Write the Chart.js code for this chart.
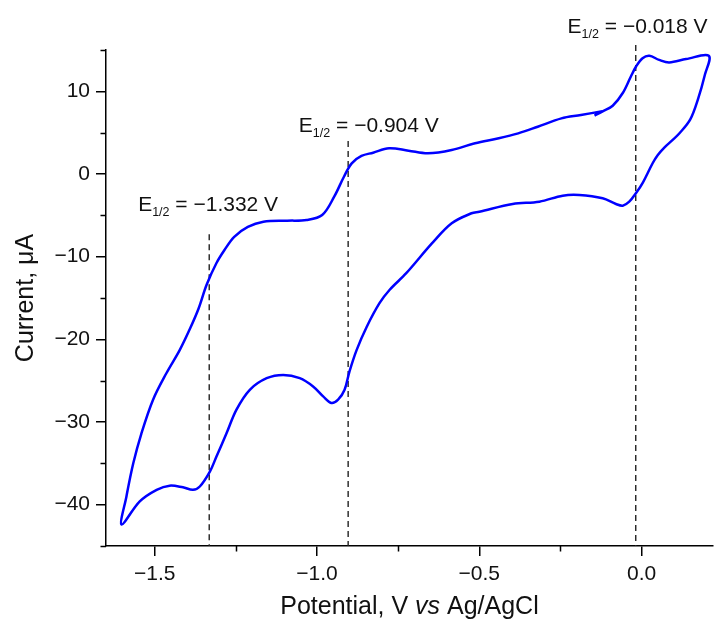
<!DOCTYPE html>
<html>
<head>
<meta charset="utf-8">
<script src="https://cdn.jsdelivr.net/npm/chart.js@4.4.1/dist/chart.umd.min.js"></script>
<style>
  html, body { margin: 0; padding: 0; background: #fff; }
  #wrap { width: 714px; height: 628px; }
</style>
</head>
<body>
<div id="wrap"><canvas id="myChart"></canvas></div>
<script>
// cyclic voltammogram (V vs Ag/AgCl, uA)
const potential = [
  -0.145, -0.120, -0.089, -0.058, -0.033, -0.017, 0.003, 0.024, 0.054, 0.085, 0.137, 0.207,
  0.195, 0.175, 0.150, 0.116, 0.095, 0.070, 0.050, 0.034, 0.003, -0.017, -0.038, -0.058, -0.079,
  -0.120, -0.192, -0.243, -0.315, -0.397, -0.500, -0.524, -0.585, -0.646, -0.725, -0.776, -0.807,
  -0.847, -0.878, -0.900, -0.915, -0.935, -0.956, -0.981, -1.012, -1.053, -1.104, -1.155, -1.207,
  -1.248, -1.279, -1.310, -1.330, -1.361, -1.382, -1.413, -1.454, -1.494, -1.546, -1.602,
  -1.587, -1.566, -1.541, -1.505, -1.464, -1.423, -1.390, -1.365, -1.340, -1.310, -1.285, -1.255,
  -1.213, -1.165, -1.092, -1.032, -0.984, -0.947, -0.917, -0.893, -0.863, -0.827, -0.778, -0.718,
  -0.658, -0.585, -0.513, -0.440, -0.380, -0.320, -0.247, -0.187, -0.121
];
const current = [
  7.06, 7.58, 8.26, 9.8, 11.8, 13.0, 14.0, 14.3, 13.8, 13.5, 13.9, 14.3,
  12.0, 9.2, 6.6, 4.9, 4.1, 3.2, 2.3, 1.3, -1.1, -2.3, -3.35, -3.83, -3.63,
  -2.94, -2.54, -2.62, -3.35, -3.63, -4.56, -4.75, -5.96, -8.4, -12.0, -14.0, -15.6,
  -18.5, -21.3, -23.9, -26.1, -27.3, -27.7, -26.9, -25.7, -24.7, -24.3, -24.7, -26.1,
  -28.5, -31.4, -34.2, -36.0, -37.8, -38.2, -37.9, -37.7, -38.2, -39.6, -42.4,
  -39.0, -35.0, -31.4, -27.3, -24.1, -21.3, -18.6, -16.3, -13.4, -10.8, -9.2, -7.6,
  -6.4, -5.78, -5.65, -5.56, -4.96, -2.74, -0.33, 1.29, 2.18, 2.58, 3.12, 2.82,
  2.5, 2.9, 3.72, 4.32, 4.92, 5.72, 6.73, 7.13, 7.6
];

// half-wave potentials and where each dashed marker starts
const halfWaveV = [-1.332, -0.904, -0.018];
const halfWaveTop = [-7.3, 4.0, 15.6];
const halfWaveText = ['\u22121.332 V', '\u22120.904 V', '\u22120.018 V'];

const xTicks = [-1.5, -1.0, -0.5, 0.0];
const xMinor = [-1.25, -0.75, -0.25];
const yTicks = [-40, -30, -20, -10, 0, 10];
const yMinor = [-45, -35, -25, -15, -5, 5, 15];

const FONT = "'Liberation Sans', Arial, sans-serif";

function fmt(v, digits) {
  const s = Math.abs(v).toFixed(digits);
  return v < 0 ? '\u2212' + s : s;
}

const cvPoints = potential.map((v, i) => ({ x: v, y: current[i] }));

const dashSets = halfWaveV.map((v, i) => ({
  data: [{ x: v, y: halfWaveTop[i] }, { x: v, y: -45 }],
  borderColor: '#222',
  borderWidth: 1.4,
  borderDash: [6, 4],
  pointRadius: 0,
  showLine: true,
  clip: false
}));

// label anchors in data units: left edge and baseline
const labelAt = [
  { x: -1.551, y: -4.47 },
  { x: -1.056, y: 5.11 },
  { x: -0.228, y: 17.09 }
];

const extras = {
  id: 'extras',
  afterDraw(chart) {
    const ctx = chart.ctx;
    const xs = chart.scales.x, ys = chart.scales.y;
    ctx.save();
    // minor ticks
    ctx.strokeStyle = '#000';
    ctx.lineWidth = 1.5;
    ctx.beginPath();
    xMinor.forEach(v => {
      const px = Math.round(xs.getPixelForValue(v)) + 0.5;
      ctx.moveTo(px, ys.bottom);
      ctx.lineTo(px, ys.bottom + 5.5);
    });
    yMinor.forEach(v => {
      const py = Math.round(ys.getPixelForValue(v)) + 0.5;
      ctx.moveTo(xs.left, py);
      ctx.lineTo(xs.left - 5.5, py);
    });
    ctx.stroke();

    // E1/2 labels
    ctx.fillStyle = '#111';
    ctx.textBaseline = 'alphabetic';
    ctx.textAlign = 'left';
    labelAt.forEach((p, i) => {
      let x = xs.getPixelForValue(p.x);
      const y = ys.getPixelForValue(p.y);
      ctx.font = '21px ' + FONT;
      ctx.fillText('E', x, y);
      x += ctx.measureText('E').width;
      ctx.font = '12.5px ' + FONT;
      ctx.fillText('1/2', x, y + 5.5);
      x += ctx.measureText('1/2').width;
      ctx.font = '21px ' + FONT;
      ctx.fillText(' = ' + halfWaveText[i], x, y);
    });

    // x axis title with italic "vs"
    const parts = [
      ['Potential, V ', 'normal'],
      ['vs', 'italic'],
      [' Ag/AgCl', 'normal']
    ];
    let total = 0;
    parts.forEach(p => { ctx.font = p[1] + ' 25px ' + FONT; total += ctx.measureText(p[0]).width; });
    let tx = (xs.left + xs.right) / 2 - total / 2;
    ctx.textBaseline = 'middle';
    parts.forEach(p => {
      ctx.font = p[1] + ' 25px ' + FONT;
      ctx.fillText(p[0], tx, 607);
      tx += ctx.measureText(p[0]).width;
    });
    ctx.restore();
  }
};

new Chart(document.getElementById('myChart'), {
  type: 'scatter',
  data: {
    datasets: [{
      data: cvPoints,
      borderColor: '#0000ff',
      borderWidth: 2.5,
      pointRadius: 0,
      showLine: true,
      tension: 0.35
    }, ...dashSets]
  },
  options: {
    responsive: true,
    maintainAspectRatio: false,
    animation: false,
    layout: { padding: { top: 50, right: 1, left: 0, bottom: 0 } },
    plugins: {
      legend: { display: false },
      tooltip: { enabled: false }
    },
    scales: {
      x: {
        type: 'linear',
        min: -1.65,
        max: 0.22,
        afterBuildTicks: s => { s.ticks = xTicks.map(v => ({ value: v })); },
        afterFit: s => { s.height = 82; },
        border: { color: '#000', width: 1.5 },
        grid: { drawOnChartArea: false, tickLength: 10, color: '#000', lineWidth: 1.5 },
        ticks: {
          color: '#111',
          padding: 6,
          font: { family: FONT, size: 21 },
          callback: v => fmt(v, 1)
        }
      },
      y: {
        type: 'linear',
        min: -45,
        max: 15,
        afterBuildTicks: s => { s.ticks = yTicks.map(v => ({ value: v })); },
        afterFit: s => { s.width = 106; },
        border: { color: '#000', width: 1.5 },
        grid: { drawOnChartArea: false, tickLength: 10, color: '#000', lineWidth: 1.5 },
        ticks: {
          color: '#111',
          padding: 6,
          font: { family: FONT, size: 21 },
          callback: v => fmt(v, 0)
        },
        title: {
          display: true,
          text: 'Current, \u03bcA',
          color: '#111',
          font: { family: FONT, size: 25 },
          padding: { top: 11, bottom: 0 }
        }
      }
    }
  },
  plugins: [extras]
});
</script>
</body>
</html>
